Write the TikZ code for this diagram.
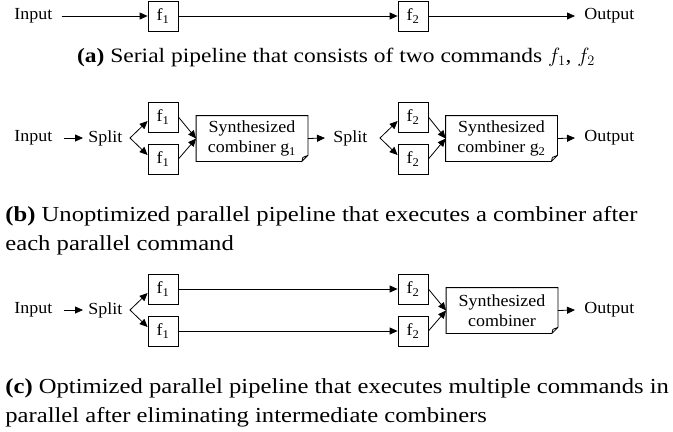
\documentclass[tikz,border=0pt]{standalone}
\usepackage{fontspec}
\setmainfont[FakeStretch=1.06]{Liberation Serif}
\newfontfamily\capfont[FakeStretch=1.15]{Liberation Serif}
\usetikzlibrary{arrows.meta,positioning}

\begin{document}
\begin{tikzpicture}[x=1bp,y=-1bp,line width=0.8bp,>={Triangle[length=8bp,width=7bp]},
  every node/.style={font=\fontsize{17}{20}\selectfont},
  lbl/.style={inner sep=0pt},
  fbox/.style={draw,minimum width=30bp,minimum height=30bp,inner sep=0pt},
  comb/.style={minimum width=111bp,minimum height=45bp,inner sep=0pt,align=center},
  captxt/.style={font=\capfont\fontsize{21.5}{29}\selectfont,inner sep=0pt}]
\useasboundingbox (0,0) rectangle (673,431);
% (a) serial
\node[lbl,anchor=west] (inA) at (14,16) {Input};
\node[fbox] (fa1) at (163,16) {f\textsubscript{1}};
\node[fbox] (fa2) at (413,16) {f\textsubscript{2}};
\node[lbl,anchor=west] (outA) at (584,16) {Output};
\draw[->] ([xshift=9bp]inA.east) -- (fa1);
\draw[->] (fa1) -- (fa2);
\draw[->] (fa2) -- ([xshift=-9bp]outA.west);
\node[captxt,font=\capfont\fontsize{20.5}{29}\selectfont,anchor=base] (capA) at (336,62) {\textbf{(a)} Serial pipeline that consists of two commands $f_1$, $f_2$};
% (b) unoptimized
\node[lbl,anchor=west] (inB) at (14,138) {Input};
\node[lbl,anchor=west] (spB1) at (88,138) {Split};
\coordinate (kB1) at (130,138);
\node[fbox] (fb1) at (163,117) {f\textsubscript{1}};
\node[fbox] (fb2) at (163,159) {f\textsubscript{1}};
\node[comb] (g1) at (252,138.5) {Synthesized\\combiner g\textsubscript{1}};
\node[lbl,anchor=west] (spB2) at (333,138) {Split};
\coordinate (kB2) at (380,138);
\node[fbox] (fb3) at (413,117) {f\textsubscript{2}};
\node[fbox] (fb4) at (413,159) {f\textsubscript{2}};
\node[comb] (g2) at (501.5,138.5) {Synthesized\\combiner g\textsubscript{2}};
\node[lbl,anchor=west] (outB) at (584,138) {Output};
\draw[->] ([xshift=11bp]inB.east) -- ([xshift=-5bp]spB1.west);
\draw[<->] ([yshift=-4bp]fb1.west) -- (kB1) -- ([yshift=4bp]fb2.west);
\draw[->] (fb1.east) -- (g1.west);
\draw[->] (fb2.east) -- (g1.west);
\draw[->] (g1.east) -- ([xshift=-8bp]spB2.west);
\draw[<->] ([yshift=-4bp]fb3.west) -- (kB2) -- ([yshift=4bp]fb4.west);
\draw[->] (fb3.east) -- (g2.west);
\draw[->] (fb4.east) -- (g2.west);
\draw[->] (g2.east) -- ([xshift=-9bp]outB.west);
\node[captxt,anchor=base west] (capB1) at (5,221) {\textbf{(b)} Unoptimized parallel pipeline that executes a combiner after};
\node[captxt,anchor=base west] (capB2) at (5,250) {each parallel command};
% (c) optimized
\node[lbl,anchor=west] (inC) at (14,310) {Input};
\node[lbl,anchor=west] (spC) at (88,310) {Split};
\coordinate (kC) at (130,310);
\node[fbox] (fc1) at (163,289) {f\textsubscript{1}};
\node[fbox] (fc2) at (163,331) {f\textsubscript{1}};
\node[fbox] (fc3) at (413,289) {f\textsubscript{2}};
\node[fbox] (fc4) at (413,331) {f\textsubscript{2}};
\node[comb] (g3) at (502,310.5) {Synthesized\\combiner};
\node[lbl,anchor=west] (outC) at (584,310) {Output};
\draw[->] ([xshift=11bp]inC.east) -- ([xshift=-5bp]spC.west);
\draw[<->] ([yshift=-4bp]fc1.west) -- (kC) -- ([yshift=4bp]fc2.west);
\draw[->] (fc1) -- (fc3);
\draw[->] (fc2) -- (fc4);
\draw[->] (fc3.east) -- (g3.west);
\draw[->] (fc4.east) -- (g3.west);
\draw[->] (g3.east) -- ([xshift=-9bp]outC.west);
\node[captxt,anchor=base west] (capC1) at (5,393) {\textbf{(c)} Optimized parallel pipeline that executes multiple commands in};
\node[captxt,anchor=base west] (capC2) at (5,422) {parallel after eliminating intermediate combiners};
% combiner boxes with folded corner
\foreach \n in {g1,g2,g3}
  \draw (\n.north west) -- (\n.north east) -- ([yshift=6bp]\n.south east)
    -- ([xshift=-6bp]\n.south east) -- (\n.south west) -- cycle
    ([yshift=6bp]\n.south east) -- ([xshift=-5bp,yshift=4bp]\n.south east)
    -- ([xshift=-6bp]\n.south east);
\end{tikzpicture}
\end{document}
